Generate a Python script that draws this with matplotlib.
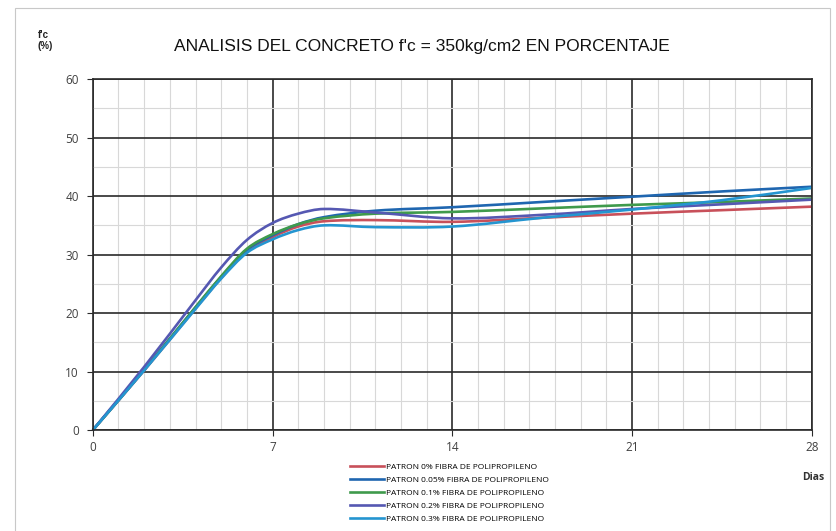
import matplotlib
matplotlib.use("Agg")
import matplotlib.pyplot as plt
from matplotlib.path import Path
from matplotlib.patches import PathPatch, Rectangle
from matplotlib.lines import Line2D
import numpy as np

# dias de ensayo
dias = [0, 2, 4, 5, 6, 7, 8, 9, 11, 14, 17.5, 21, 24.5, 28]

patron_0 = [0, 10.2, 20.8, 26.0, 30.5, 33.0, 34.8, 35.7, 35.9, 35.6, 36.3, 37.0, 37.6, 38.2]
patron_005 = [0, 10.3, 21.0, 26.2, 30.8, 33.3, 35.2, 36.4, 37.5, 38.1, 39.0, 39.9, 40.8, 41.6]
patron_01 = [0, 10.3, 21.0, 26.3, 31.0, 33.5, 35.2, 36.2, 37.0, 37.3, 37.9, 38.5, 39.0, 39.6]
patron_02 = [0, 10.8, 22.2, 27.8, 32.5, 35.4, 37.0, 37.8, 37.2, 36.2, 36.8, 37.8, 38.6, 39.4]
patron_03 = [0, 10.2, 20.7, 25.9, 30.3, 32.6, 34.2, 35.0, 34.7, 34.8, 36.3, 37.7, 39.3, 41.4]

series = [
    ("PATRON 0% FIBRA DE POLIPROPILENO", patron_0, "#c8505a"),
    ("PATRON 0.05% FIBRA DE POLIPROPILENO", patron_005, "#1f66b0"),
    ("PATRON 0.1% FIBRA DE POLIPROPILENO", patron_01, "#3f9a4c"),
    ("PATRON 0.2% FIBRA DE POLIPROPILENO", patron_02, "#5558b2"),
    ("PATRON 0.3% FIBRA DE POLIPROPILENO", patron_03, "#2495d0"),
]


def smooth_path(x, y):
    # linea suavizada: Hermite cubico con tangentes tipo Catmull-Rom
    x = np.asarray(x, float)
    y = np.asarray(y, float)
    n = len(x)
    m = np.zeros(n)
    for i in range(n):
        a = max(i - 1, 0)
        b = min(i + 1, n - 1)
        m[i] = (y[b] - y[a]) / (x[b] - x[a])
    verts = [(x[0], y[0])]
    codes = [Path.MOVETO]
    for i in range(n - 1):
        h = x[i + 1] - x[i]
        verts += [(x[i] + h / 3, y[i] + m[i] * h / 3),
                  (x[i + 1] - h / 3, y[i + 1] - m[i + 1] * h / 3),
                  (x[i + 1], y[i + 1])]
        codes += [Path.CURVE4] * 3
    return Path(verts, codes)


plt.rcParams["font.family"] = ["Liberation Sans", "DejaVu Sans"]
fig = plt.figure(figsize=(8.36, 5.31), dpi=100)
ax = fig.add_axes([0.111, 0.19, 0.86, 0.661])

ax.set_xlim(0, 28)
ax.set_ylim(0, 60)
ax.set_xticks([0, 7, 14, 21, 28])
ax.set_yticks(range(0, 61, 10))
ax.set_xticks(np.arange(0, 29, 1), minor=True)
ax.set_yticks(np.arange(0, 61, 5), minor=True)
ax.grid(which="minor", color="#d8d8d8", linewidth=0.8)
ax.grid(which="major", color="#2a2a2a", linewidth=1.2)
ax.set_axisbelow(True)
for s in ax.spines.values():
    s.set_color("#2a2a2a")
    s.set_linewidth(1.2)
ax.tick_params(which="minor", length=0)
ax.tick_params(which="major", length=4, color="#2a2a2a", labelsize=8.5,
               labelcolor="#404040")
ax.tick_params(axis="y", pad=6)
for lab in ax.get_xticklabels() + ax.get_yticklabels():
    lab.set_family(["Open Sans", "DejaVu Sans"])

handles = []
for name, vals, col in series:
    patch = PathPatch(smooth_path(dias, vals), fill=False, edgecolor=col,
                      linewidth=1.9, clip_on=False)
    ax.add_patch(patch)
    handles.append(Line2D([], [], color=col, linewidth=1.9, label=name))

fig.legend(handles=handles, loc="upper left", bbox_to_anchor=(0.419, 0.128),
           bbox_transform=fig.transFigure, frameon=False,
           handlelength=4.0, handletextpad=0.25, labelspacing=0.62,
           borderaxespad=0, borderpad=0,
           prop={"family": ["Open Sans", "DejaVu Sans"], "size": 6})

fig.text(0.505, 0.912, "ANALISIS DEL CONCRETO f'c = 350kg/cm2 EN PORCENTAJE",
         ha="center", va="center", fontsize=12.5, color="#111111")
fig.text(0.045, 0.923, "f'c\n(%)", ha="left", va="center", fontsize=7,
         fontweight="bold", color="#222222", linespacing=1.1)
fig.text(0.986, 0.1, "Dias", ha="right", va="center", fontsize=7.5,
         fontweight="bold", color="#333333", family=["Open Sans", "DejaVu Sans"])

fig.patches.append(Rectangle((0.018, -0.01), 0.975, 0.995, transform=fig.transFigure,
                             fill=False, edgecolor="#c8c8c8", linewidth=0.8))

fig.savefig("out.png", dpi=100)
